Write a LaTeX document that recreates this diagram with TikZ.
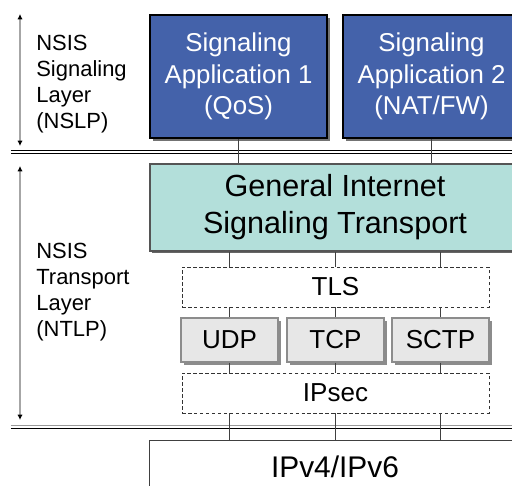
\documentclass[tikz,border=0pt]{standalone}
\usepackage{fontspec}
\setmainfont{Liberation Sans}
\usetikzlibrary{arrows.meta, shadows}
\definecolor{cApp}  {RGB}{ 68, 98,170}
\definecolor{cGist} {RGB}{179,223,218}
\definecolor{cProto}{RGB}{231,231,231}
\definecolor{cEdge} {RGB}{ 85, 85, 85}

\begin{document}
\begin{tikzpicture}[
  x=0.02cm, y=-0.02cm,
  %% blue application boxes
  appbox/.style={
    draw=black, fill=cApp, text=white, line width=0.6pt,
    minimum width=3.54cm, minimum height=2.46cm, align=center,
    font=\fontsize{14.7}{18.1}\selectfont,
    drop shadow={shadow xshift=1.6pt, shadow yshift=-1.6pt,
                 fill=black!55, opacity=1}
  },
  %% GIST box
  gistbox/.style={
    draw=cEdge, fill=cGist, line width=0.8pt,
    minimum width=7.4cm, minimum height=1.74cm, align=center,
    font=\fontsize{17.4}{21}\selectfont,
    drop shadow={shadow xshift=1.2pt, shadow yshift=-1.2pt,
                 fill=black!60, opacity=1}
  },
  %% transport protocols
  protobox/.style={
    draw=black!45, fill=cProto, line width=0.6pt,
    minimum width=1.94cm, minimum height=0.88cm,
    font=\fontsize{14.8}{17}\selectfont,
    drop shadow={shadow xshift=1.6pt, shadow yshift=-1.6pt,
                 fill=black!45, opacity=1}
  },
  %% optional security layers
  optbox/.style={
    draw=black!80, dashed, dash pattern=on 2pt off 1.4pt, line width=0.5pt,
    minimum width=6.14cm, minimum height=0.8cm,
    font=\fontsize{14.8}{17}\selectfont
  },
  iplayer/.style={
    minimum width=7.4cm, minimum height=1.04cm,
    font=\fontsize{17}{21}\selectfont
  },
  layerlabel/.style={
    anchor=north west, inner sep=0pt, align=left,
    font=\fontsize{12.5}{14.8}\selectfont
  },
  link/.style={black!75, line width=0.6pt},
  layerarrow/.style={
    {Latex[length=3pt,width=3pt,black]}-{Latex[length=3pt,width=3pt,black]},
    gray!70, line width=0.8pt
  },
]

\useasboundingbox (0,0) rectangle (512,486);
\clip (0,0) rectangle (512,486);

%% ── Layer separators ─────────────────────────────────────────────────────────
\draw[black, line width=0.6pt] (11,150.5) -- (520,150.5);
\draw[black, line width=0.6pt] (11,153.5) -- (520,153.5);
\draw[gray!80, line width=0.9pt] (11,425.5) -- (520,425.5);
\draw[black, line width=0.6pt] (11,428.5) -- (520,428.5);

%% ── Layer extents (left side) ────────────────────────────────────────────────
\draw[layerarrow] (20,14) -- (20,146);
\node[layerlabel] (nslp) at (36,35) {NSIS\\Signaling\\Layer\\(NSLP)};

\draw[layerarrow] (20,166) -- (20,420);
\node[layerlabel] (ntlp) at (36,243) {NSIS\\Transport\\Layer\\(NTLP)};

%% ── Signaling applications ───────────────────────────────────────────────────
\node[appbox] (app1) at (238.5,76.5) {Signaling\\Application 1\\(QoS)};
\node[appbox] (app2) at (431.5,76.5) {Signaling\\Application 2\\(NAT/FW)};

%% ── Transport stack ──────────────────────────────────────────────────────────
\node[gistbox] (gist) at (335,207.5) {General Internet\\Signaling Transport};
\node[optbox]  (tls)   at (335.5,287) {TLS};
\node[protobox] (udp)  at (229.5,340) {UDP};
\node[protobox] (tcp)  at (335.5,340) {TCP};
\node[protobox] (sctp) at (440.5,340) {SCTP};
\node[optbox]  (ipsec) at (335.5,393) {IPsec};

%% network layer, open to the bottom and right
\node[iplayer] (ip) at (335,467) {IPv4/IPv6};
\draw[link] (ip.south west) -- (ip.north west) -- (ip.north east);

%% ── Connections ──────────────────────────────────────────────────────────────
\draw[link] (app1.south) -- (app1.south |- gist.north);
\draw[link] (app2.south) -- (app2.south |- gist.north);

\foreach \p in {udp,tcp,sctp} {
  \draw[link] (\p |- gist.south) -- (\p |- tls.north);
  \draw[link] (\p |- tls.south) -- (\p.north);
  \draw[link] (\p.south) -- (\p |- ipsec.north);
  \draw[link] (\p |- ipsec.south) -- (\p |- ip.north);
}

\end{tikzpicture}
\end{document}
